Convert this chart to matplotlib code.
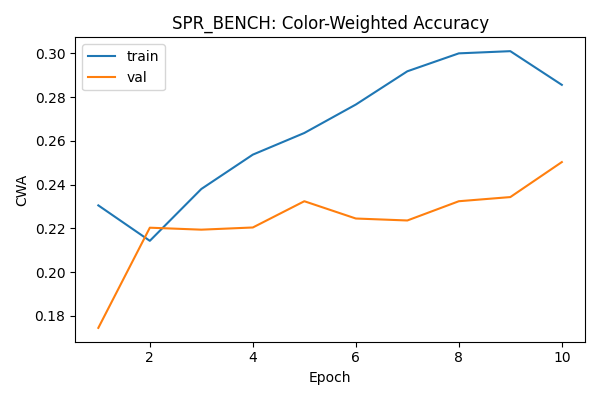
import matplotlib
matplotlib.use("Agg")
import matplotlib.pyplot as plt

epochs = list(range(1, 11))
train_cwa = [0.2305, 0.2143, 0.2380, 0.2537, 0.2636, 0.2766, 0.2918, 0.3000, 0.3010, 0.2856]
val_cwa = [0.1745, 0.2203, 0.2194, 0.2204, 0.2324, 0.2245, 0.2236, 0.2324, 0.2343, 0.2503]

fig, ax = plt.subplots(figsize=(6, 4), dpi=100)
ax.plot(epochs, train_cwa, label="train")
ax.plot(epochs, val_cwa, label="val")
ax.set_title("SPR_BENCH: Color-Weighted Accuracy")
ax.set_xlabel("Epoch")
ax.set_ylabel("CWA")
ax.legend(loc="upper left")
fig.tight_layout()
fig.savefig("out.png")
